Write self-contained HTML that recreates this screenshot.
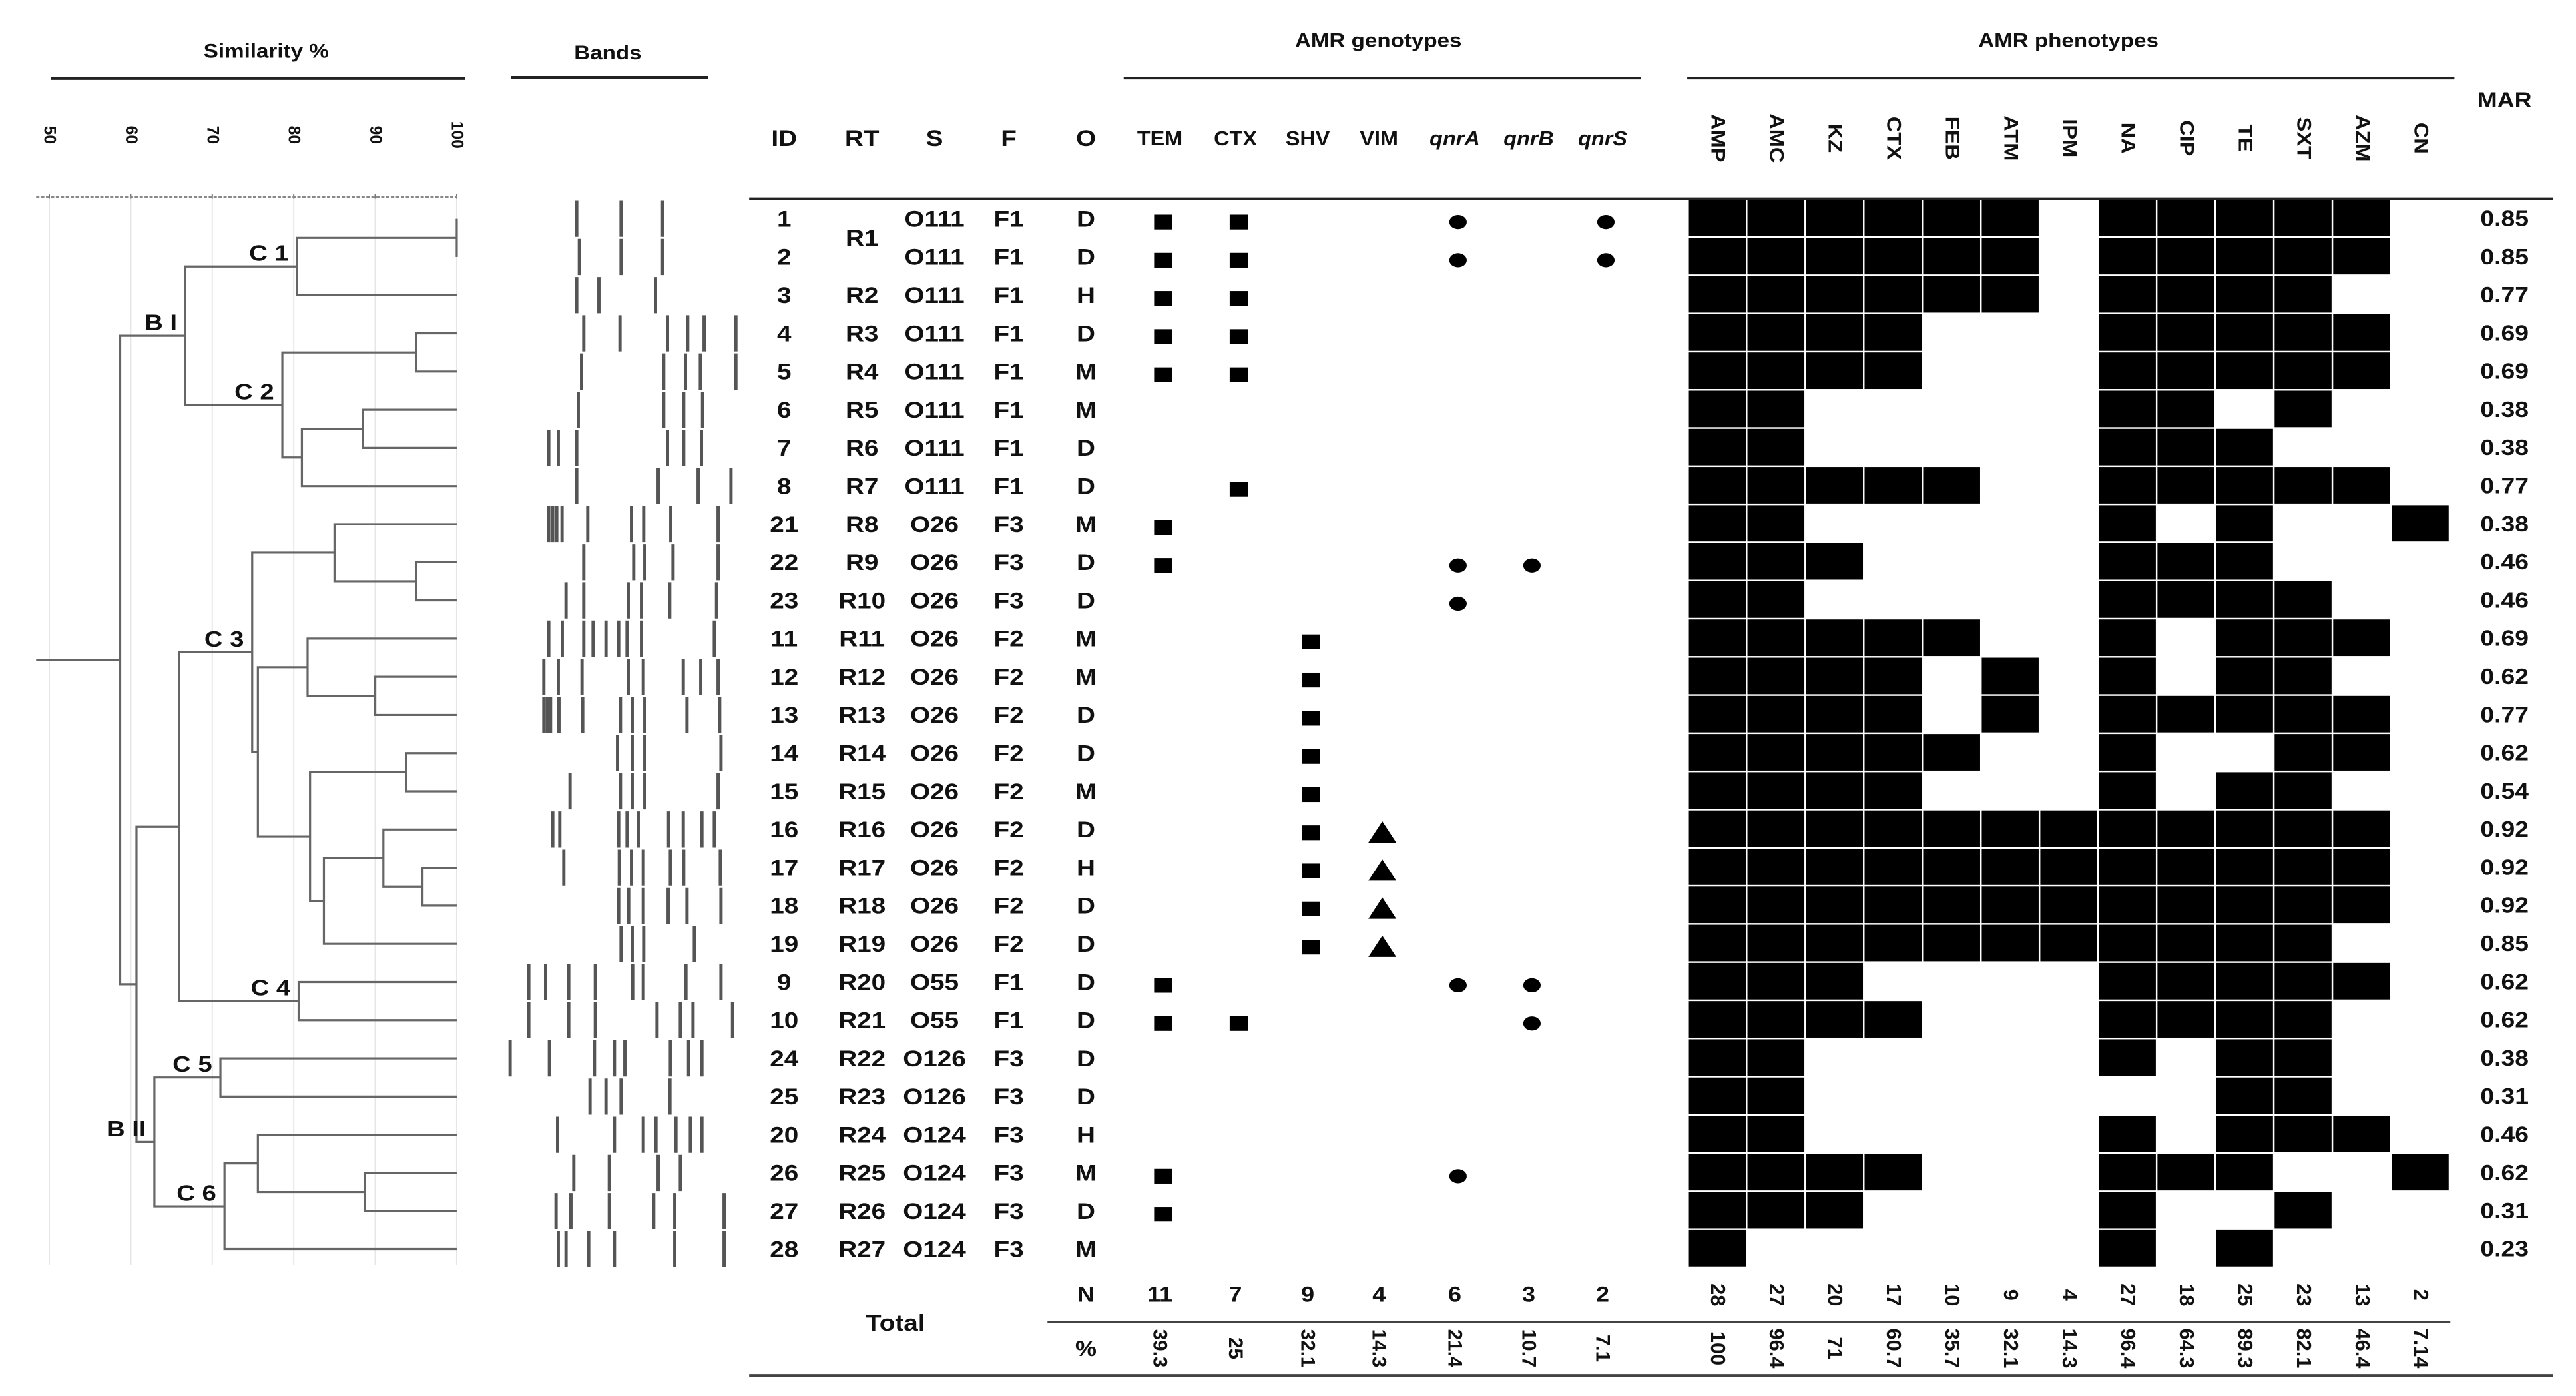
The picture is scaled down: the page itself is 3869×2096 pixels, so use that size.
<!DOCTYPE html>
<html><head><meta charset="utf-8">
<style>
html,body{margin:0;padding:0;background:#fff;}
svg{display:block;}
text{font-family:"Liberation Sans",sans-serif;fill:#111;}
</style></head>
<body>
<svg id="fig" xmlns="http://www.w3.org/2000/svg" width="3869" height="2096" viewBox="0 0 1568 849.5" preserveAspectRatio="none">
<g id="dendro"></g>
<g id="bands"></g>
<g id="table"></g>
<g id="geno"></g>
<g id="pheno"></g>
</svg>
<script>
// ---------- data ----------
const ids = ["1","2","3","4","5","6","7","8","21","22","23","11","12","13","14","15","16","17","18","19","9","10","24","25","20","26","27","28"];
const rts = ["","","R2","R3","R4","R5","R6","R7","R8","R9","R10","R11","R12","R13","R14","R15","R16","R17","R18","R19","R20","R21","R22","R23","R24","R25","R26","R27"];
const serotypes = ["O111","O111","O111","O111","O111","O111","O111","O111","O26","O26","O26","O26","O26","O26","O26","O26","O26","O26","O26","O26","O55","O55","O126","O126","O124","O124","O124","O124"];
const families = ["F1","F1","F1","F1","F1","F1","F1","F1","F3","F3","F3","F2","F2","F2","F2","F2","F2","F2","F2","F2","F1","F1","F3","F3","F3","F3","F3","F3"];
const origins = ["D","D","H","D","M","M","D","D","M","D","D","M","M","D","D","M","D","H","D","D","D","D","D","D","H","M","D","M"];
const marValues = ["0.85","0.85","0.77","0.69","0.69","0.38","0.38","0.77","0.38","0.46","0.46","0.69","0.62","0.77","0.62","0.54","0.92","0.92","0.92","0.85","0.62","0.62","0.38","0.31","0.46","0.62","0.31","0.23"];

const genoCols = ["TEM","CTX","SHV","VIM","qnrA","qnrB","qnrS"];
const genoShape = ["sq","sq","sq","tri","dot","dot","dot"];
const genoTEM  = [1,1,1,1,1,0,0,0,1,1,0,0,0,0,0,0,0,0,0,0,1,1,0,0,0,1,1,0];
const genoCTX  = [1,1,1,1,1,0,0,1,0,0,0,0,0,0,0,0,0,0,0,0,0,1,0,0,0,0,0,0];
const genoSHV  = [0,0,0,0,0,0,0,0,0,0,0,1,1,1,1,1,1,1,1,1,0,0,0,0,0,0,0,0];
const genoVIM  = [0,0,0,0,0,0,0,0,0,0,0,0,0,0,0,0,1,1,1,1,0,0,0,0,0,0,0,0];
const genoQnrA = [1,1,0,0,0,0,0,0,0,1,1,0,0,0,0,0,0,0,0,0,1,0,0,0,0,1,0,0];
const genoQnrB = [0,0,0,0,0,0,0,0,0,1,0,0,0,0,0,0,0,0,0,0,1,1,0,0,0,0,0,0];
const genoQnrS = [1,1,0,0,0,0,0,0,0,0,0,0,0,0,0,0,0,0,0,0,0,0,0,0,0,0,0,0];
const genoN   = ["11","7","9","4","6","3","2"];
const genoPct = ["39.3","25","32.1","14.3","21.4","10.7","7.1"];

const phenoCols = ["AMP","AMC","KZ","CTX","FEB","ATM","IPM","NA","CIP","TE","SXT","AZM","CN"];
const phenoRows = [
"1111110111110","1111110111110","1111110111100","1111000111110","1111000111110",
"1100000110100","1100000111000","1111100111110","1100000101001","1110000111000",
"1100000111100","1111100101110","1111010101100","1111010111110","1111100100110",
"1111000101100","1111111111110","1111111111110","1111111111110","1111111111100",
"1110000111110","1111000111100","1100000101100","1100000001100","1100000101110",
"1111000111001","1110000100100","1000000101000"];
const phenoN   = ["28","27","20","17","10","9","4","27","18","25","23","13","2"];
const phenoPct = ["100","96.4","71","60.7","35.7","32.1","14.3","96.4","64.3","89.3","82.1","46.4","7.14"];

const simTicks = [50,60,70,80,90,100];
const merges = [
 [0,1,100],[ "n0",2,80.4],[3,4,95],[5,6,88.5],["n3",7,81],["n2","n4",78.6],["n1","n5",66.7],
 [9,10,95],[8,"n7",85],[12,13,90],[11,"n9",81.7],[14,15,93.8],[17,18,95.8],[16,"n12",91],
 ["n13",19,83.7],["n11","n14",82],["n10","n15",75.6],["n8","n16",74.9],[20,21,80.6],
 ["n17","n18",65.9],[22,23,71],[25,26,88.7],[24,"n21",75.6],["n22",27,71.5],["n20","n23",62.9],
 ["n19","n24",60.7],["n6","n25",58.7]];
const clusterLabels = [["C 1","n1"],["C 2","n5"],["C 3","n17"],["C 4","n18"],["C 5","n20"],["C 6","n23"],["B I","n6"],["B II","n24"]];

const bandRows = [
[348,548,735],[360,548,735],[348,448,703],[380,543,757,848,922,1065],[370,740,838,905,1065],
[355,740,830,915],[222,265,348,757,830,910],[348,715,895,1043],[222,240,258,282,398,595,650,772,985],
[380,605,655,782,985],[300,380,580,640,767,978],[222,283,380,422,480,537,575,640,968],
[200,265,372,580,648,828,907,985],[200,215,230,268,375,545,598,655,845,992],[532,598,655,998],
[318,545,598,655,985],[240,272,537,575,625,762,828,912,968],[290,540,595,648,770,830,995],
[537,582,648,760,845,998],[548,598,650,878],[132,208,312,432,600,648,840,998],
[132,312,432,710,815,872,1050],[48,225,428,518,565,770,852,912],[408,480,548,768],
[262,518,648,705,795,860,912],[335,495,715,815],[255,322,495,695,790,1012],[265,300,402,518,790,1012]];

// ---------- helpers ----------
const NS="http://www.w3.org/2000/svg";
function mk(tag, parent, attrs){const e=document.createElementNS(NS,tag);for(const k in attrs)e.setAttribute(k,attrs[k]);parent.appendChild(e);return e;}
const rowY = i => 133.2 + i*23.22;
const simX = s => 30 + (s-50)*4.96;
function txt(parent,x,y,str,size,opt){
  opt=opt||{};
  const e=mk('text',parent,{x:0,y:0,'text-anchor':opt.anchor||'middle','dominant-baseline':'central','font-size':size,'font-weight':opt.weight||'bold',
    transform:`translate(${x},${y}) rotate(${opt.rot||0}) scale(${opt.sx||1.12},1)`});
  if(opt.italic) e.setAttribute('font-style','italic');
  e.textContent=str; return e;
}
function line(parent,x1,y1,x2,y2,w,c){return mk('line',parent,{x1,y1,x2,y2,stroke:c||'#333','stroke-width':w||1.2});}

const fig=document.getElementById('fig');
const dendro=document.getElementById('dendro'), bandsG=document.getElementById('bands'),
      table=document.getElementById('table'), geno=document.getElementById('geno'), pheno=document.getElementById('pheno');

// ---------- headers ----------
let t;
t=txt(fig,162,31,"Similarity %",12);  
line(fig,31,47.8,283,47.8,1.6,'#222');
t=txt(fig,370,32,"Bands",12);  
line(fig,311,47,431,47,1.6,'#222');
t=txt(fig,839,24.5,"AMR genotypes",12);  
line(fig,684,47.5,998.6,47.5,1.6,'#222');
t=txt(fig,1259,24.5,"AMR phenotypes",12);  
line(fig,1027,47.5,1494,47.5,1.6,'#222');
t=txt(fig,1524.5,61,"MAR",13);  
line(fig,456,121,1554,121,1.6,'#222');

// ---------- dendrogram axis ----------
simTicks.forEach(s=>{
  line(dendro,simX(s),121,simX(s),770,0.8,'#e6e6e6');
  const e=txt(dendro,simX(s),82,String(s),10,{rot:90,sx:1});
  
  
  line(dendro,simX(s),118,simX(s),121,0.8,'#777');
});
const ax=mk('line',dendro,{x1:22,y1:120,x2:simX(100),y2:120,stroke:'#888','stroke-width':1,'stroke-dasharray':'2,1'});



const nodePos={};
function pos(c){ if(typeof c==='number') return {x:simX(100), y:rowY(c)}; return nodePos[c]; }
merges.forEach((m,i)=>{
  const a=pos(m[0]), b=pos(m[1]); const x=simX(m[2]);
  const g=mk('path',dendro,{d:`M${a.x},${a.y} H${x} V${b.y} H${b.x}`,fill:'none',stroke:'#666','stroke-width':1.3});
  
  
  nodePos['n'+i]={x:x,y:(a.y+b.y)/2};
});
const root=nodePos['n'+(merges.length-1)];
line(dendro,22,root.y,root.x,root.y,1.3,'#666');
clusterLabels.forEach(([lab,n])=>{
  const p=nodePos[n];
  const e=txt(dendro,p.x-5,p.y-8,lab,13.5,{anchor:'end',sx:1.15});
  
  
});

// ---------- bands ----------
bandRows.forEach((r,i)=>{
  r.forEach(b=>{
    const x=304+b/7.4;
    const e=line(bandsG,x,rowY(i)-11,x,rowY(i)+11,2,'#555');
    
    
  });
});

// ---------- table headers ----------
const colX={ID:477.3,RT:524.7,S:568.8,F:614,O:661};
Object.keys(colX).forEach(k=>{
  const e=txt(table,colX[k],84,k,14);
  
  
});
const genoX=[706,752,796,839.4,885.5,930.5,975.5];
genoCols.forEach((c,j)=>{
  const e=txt(geno,genoX[j],84,c,12.5,{italic:j>=4,sx:1.05});
  
  
});
const cellW=(1491.5-1028)/13, gridX0=1028, gridY0=121.6, cellH=23.22;
phenoCols.forEach((c,j)=>{
  const e=txt(pheno,gridX0+cellW*(j+0.5),84,c,12,{rot:90,sx:1.1});
  
  
});

// ---------- rows ----------
ids.forEach((id,i)=>{
  const y=rowY(i);
  let e=txt(table,colX.ID,y,id,14);  
  if(rts[i]){ e=txt(table,colX.RT,y,rts[i],14);   }
  e=txt(table,colX.S,y,serotypes[i],14);  
  e=txt(table,colX.F,y,families[i],14);  
  e=txt(table,colX.O,y,origins[i],14);  
  e=txt(table,1524.5,y,marValues[i],13.5);  
});
let r1=txt(table,colX.RT,(rowY(0)+rowY(1))/2,"R1",14);



const genoSeries=[genoTEM,genoCTX,genoSHV,genoVIM,genoQnrA,genoQnrB,genoQnrS];
genoSeries.forEach((ser,j)=>{
  ser.forEach((v,i)=>{
    if(!v) return;
    const x=genoX[j]+2, y=rowY(i)+2; let e;
    if(genoShape[j]==='sq') e=mk('rect',geno,{x:x-5.5,y:y-4.5,width:11,height:9,fill:'#000'});
    else if(genoShape[j]==='dot') e=mk('ellipse',geno,{cx:x,cy:y,rx:5.3,ry:4.3,fill:'#000'});
    else e=mk('polygon',geno,{points:`${x},${y-7} ${x+8.5},${y+6} ${x-8.5},${y+6}`,fill:'#000'});
    
    
  });
});

phenoRows.forEach((row,i)=>{
  row.split('').forEach((v,j)=>{
    if(v!=='1') return;
    const e=mk('rect',pheno,{x:gridX0+j*cellW,y:gridY0+i*cellH,width:cellW-1,height:cellH-1,fill:'#000'});
    
    
  });
});

// ---------- totals ----------
let e2=txt(table,545,805,"Total",14);  
e2=txt(table,colX.O,788,"N",13);  
e2=txt(table,colX.O,821,"%",13);  
genoN.forEach((v,j)=>{ const e=txt(geno,genoX[j],788,v,13);   });
genoPct.forEach((v,j)=>{ const e=txt(geno,genoX[j],820.5,v,12,{rot:90,sx:1});   });
phenoN.forEach((v,j)=>{ const e=txt(pheno,gridX0+cellW*(j+0.5),788,v,12.5,{rot:90,sx:1});   });
phenoPct.forEach((v,j)=>{ const e=txt(pheno,gridX0+cellW*(j+0.5),820.5,v,12.5,{rot:90,sx:1});   });
line(fig,637.6,804.6,1491.5,804.6,1.4,'#444');
line(fig,456,837,1554,837,1.6,'#444');
</script>
</body></html>
